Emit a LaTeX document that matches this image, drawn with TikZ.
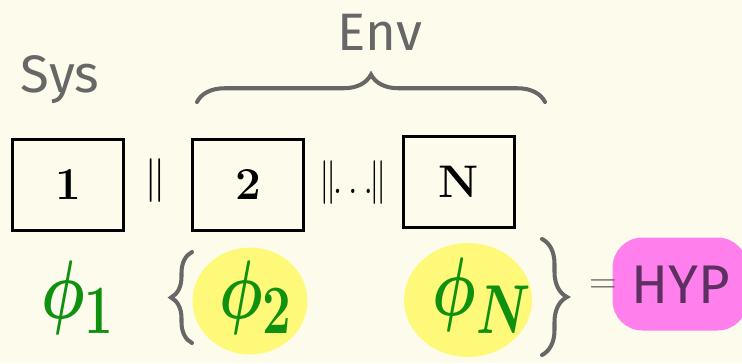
\documentclass[tikz,border=0pt]{standalone}
\usepackage{graphicx}
\usepackage{fontspec}
\setsansfont{Fira Sans}
\usetikzlibrary{shapes.geometric,decorations.pathreplacing}

\definecolor{PaperColor}{HTML}{FDFCEC}
\definecolor{PenGray}{HTML}{676767}
\definecolor{PhiGreen}{HTML}{0F900F}
\definecolor{MarkerYellow}{HTML}{FFF97A}
\definecolor{MarkerPink}{HTML}{FF80EC}
\definecolor{HypPurple}{HTML}{5C3060}

\newcommand{\bigphi}[1]{\scalebox{1.4}[1.9]{$\phi_{#1}$}}

\tikzstyle{component}=[rectangle,
                       draw=black,
                       line width=1.7pt,
                       text centered,
                       minimum width=2.22cm,
                       minimum height=1.82cm,
                       font=\bfseries\fontsize{26}{28}\selectfont
                      ]
\tikzstyle{pen-label}=[text=PenGray, font=\sffamily\fontsize{30}{32}\selectfont]
\tikzstyle{parallel}=[inner sep=0pt, font=\fontsize{24}{26}\selectfont]
\tikzstyle{phi}=[text=PhiGreen, font=\boldmath\Huge]
\tikzstyle{marker}=[ellipse, fill=MarkerYellow, inner sep=0pt]
\tikzstyle{pen-brace}=[draw=PenGray, line width=2.3pt, line cap=round, decorate]

\begin{document}
\begin{tikzpicture}[x=0.02cm, y=-0.02cm]
    \fill[PaperColor] (0,0) rectangle (742,363);
    \useasboundingbox (0,0) rectangle (742,363);

    % Components
    % --------------------------------------------------------------------------
    \node at ( 68, 185) (box_1) [component] {1};
    \node at (248, 185) (box_2) [component] {2};
    \node at (459, 182) (box_n) [component] {N};

    \node at (155, 181) (par_12) [parallel] {$\|$};
    \node at (353, 183) (par_2n) [parallel] {\scalebox{0.8}[1]{$\|\mkern-5mu\ldots\mkern-5mu\|$}};

    \node at ( 60,  80) (sys_text) [pen-label] {Sys};
    \node at (380,  32) (env_text) [pen-label] {Env};

    % Models
    % --------------------------------------------------------------------------
    \node at (250, 301) (blob_2) [marker, minimum width=2.3cm, minimum height=2.14cm] {};
    \node at (468, 300) (blob_n) [marker, minimum width=2.56cm, minimum height=2.28cm] {};
    \node at (680, 284) (blob_hyp) [rectangle, rounded corners=0.6cm, fill=MarkerPink,
                                    minimum width=2.7cm, minimum height=1.86cm] {};

    \node at ( 78, 298) (phi_1) [phi] {\bigphi{1}};
    \node at (256, 298) (phi_2) [phi] {\bigphi{2}};
    \node at (482, 296) (phi_n) [phi] {\bigphi{N}};

    \node at (603, 287) (equals)   [text=PenGray, font=\fontsize{22}{24}\selectfont] {=};
    \node at (681, 285) (hyp_text) [text=HypPurple, font=\sffamily\fontsize{31}{33}\selectfont] {HYP};

    % Braces
    % --------------------------------------------------------------------------
    \coordinate (env_l) at (197, 102);
    \coordinate (env_r) at (545, 102);
    \draw[pen-brace, decoration={brace, amplitude=0.55cm}] (env_l) -- (env_r);

    \coordinate (set_l_bot) at (192, 343);
    \coordinate (set_l_top) at (192, 252);
    \draw[pen-brace, decoration={brace, amplitude=0.42cm}] (set_l_bot) -- (set_l_top);

    \coordinate (set_r_top) at (542, 239);
    \coordinate (set_r_bot) at (542, 355);
    \draw[pen-brace, decoration={brace, amplitude=0.5cm}] (set_r_top) -- (set_r_bot);
\end{tikzpicture}
\end{document}
